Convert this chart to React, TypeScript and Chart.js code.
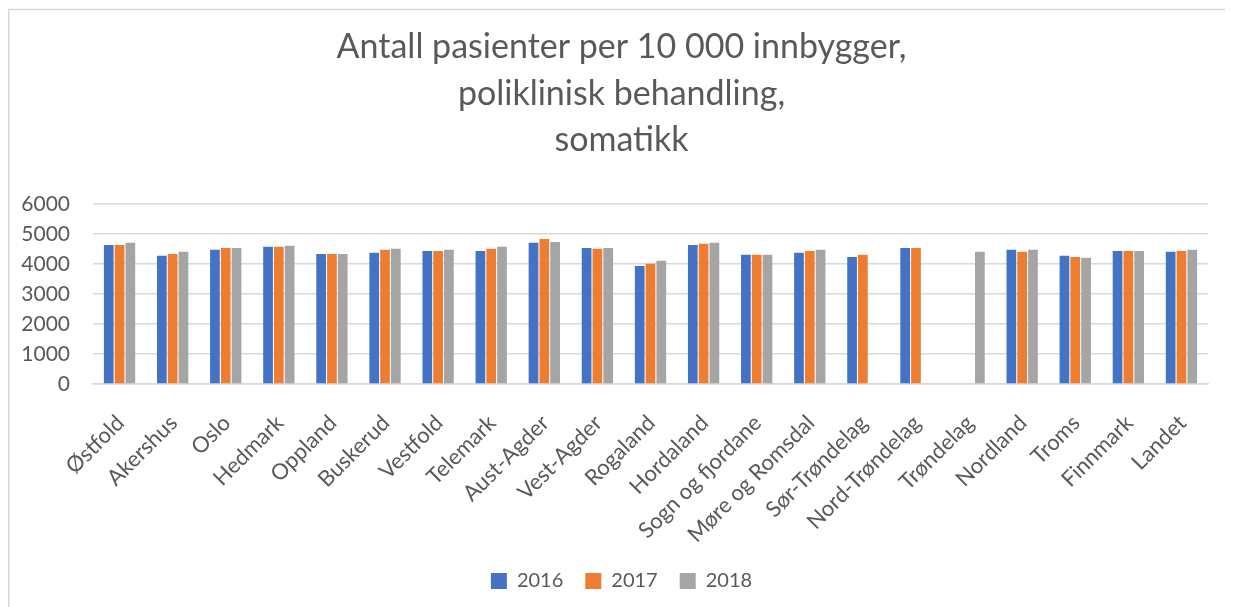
import React, { useEffect, useRef } from "react";
import { Chart, registerables } from "chart.js";

Chart.register(...registerables);

const categories = [
  "Østfold", "Akershus", "Oslo", "Hedmark", "Oppland", "Buskerud", "Vestfold",
  "Telemark", "Aust-Agder", "Vest-Agder", "Rogaland", "Hordaland",
  "Sogn og fjordane", "Møre og Romsdal", "Sør-Trøndelag", "Nord-Trøndelag",
  "Trøndelag", "Nordland", "Troms", "Finnmark", "Landet",
];

const values2016: (number | null)[] = [
  4640, 4280, 4480, 4580, 4340, 4380, 4440, 4440, 4710, 4540, 3940, 4640,
  4310, 4380, 4240, 4540, null, 4480, 4280, 4440, 4410,
];
const values2017: (number | null)[] = [
  4640, 4340, 4540, 4580, 4340, 4480, 4440, 4510, 4840, 4510, 4010, 4680,
  4310, 4440, 4310, 4540, null, 4410, 4240, 4440, 4440,
];
const values2018: (number | null)[] = [
  4710, 4410, 4540, 4610, 4340, 4510, 4480, 4580, 4740, 4540, 4110, 4710,
  4310, 4480, null, null, 4410, 4480, 4210, 4440, 4480,
];

const seriesNames = ["2016", "2017", "2018"];
const yTicks = [0, 1000, 2000, 3000, 4000, 5000, 6000];
const titleLines = [
  "Antall pasienter per 10 000 innbygger,",
  "poliklinisk behandling,",
  "somatikk",
];

const FONT = "Lato, 'Open Sans', sans-serif";
const TEXT = "#595959";
const GRID = "#d9d9d9";

const frameBorder = {
  id: "frameBorder",
  afterLayout(chart: any) {
    // shift title and legend centring slightly right, as in the reference
    const shift = 27;
    if (chart.titleBlock) chart.titleBlock.left += shift;
    if (chart.legend) chart.legend.left += shift;
  },
  beforeDraw(chart: any) {
    const ctx = chart.ctx;
    ctx.save();
    ctx.strokeStyle = GRID;
    ctx.lineWidth = 1.5;
    ctx.beginPath();
    ctx.moveTo(0.75, chart.height);
    ctx.lineTo(0.75, 1.5);
    ctx.lineTo(chart.width, 1.5);
    ctx.stroke();
    ctx.restore();
  },
};

export default function App() {
  const ref = useRef<HTMLCanvasElement | null>(null);

  useEffect(() => {
    if (!ref.current) return;
    const chart = new Chart(ref.current, {
      type: "bar",
      data: {
        labels: categories,
        datasets: [
          { label: seriesNames[0], data: values2016, backgroundColor: "#4472C4" },
          { label: seriesNames[1], data: values2017, backgroundColor: "#ED7D31" },
          { label: seriesNames[2], data: values2018, backgroundColor: "#A5A5A5" },
        ].map((d) => ({ ...d, categoryPercentage: 0.61, barPercentage: 0.9 })),
      },
      options: {
        animation: false,
        responsive: false,
        maintainAspectRatio: false,
        layout: { padding: { left: 0, right: 25, top: 0, bottom: 6 } },
        plugins: {
          title: {
            display: true,
            text: titleLines,
            color: TEXT,
            font: { family: FONT, size: 34, weight: "normal", lineHeight: 46.4 / 34 },
            padding: { top: 16, bottom: 41 },
          },
          legend: {
            position: "bottom",
            labels: {
              color: TEXT,
              font: { family: FONT, size: 20 },
              boxWidth: 16,
              boxHeight: 16,
              padding: 22,
            },
          },
          tooltip: { enabled: false },
        },
        scales: {
          x: {
            grid: { display: false },
            border: { display: true, color: GRID, width: 1.5 },
            ticks: {
              color: TEXT,
              font: { family: FONT, size: 22 },
              maxRotation: 45,
              minRotation: 45,
              autoSkip: false,
              padding: 18,
              labelOffset: 1,
            },
            afterFit: (scale: any) => {
              scale.height = 165;
            },
          },
          y: {
            min: 0,
            max: 6000,
            afterBuildTicks: (scale: any) => {
              scale.ticks = yTicks.map((v) => ({ value: v }));
            },
            grid: { color: GRID, lineWidth: 1.5, drawTicks: false },
            border: { display: false },
            ticks: {
              color: TEXT,
              font: { family: FONT, size: 21 },
              padding: 23,
              callback: (v: any) => String(v),
            },
            afterFit: (scale: any) => {
              scale.width = 85;
            },
          },
        },
      },
      plugins: [frameBorder],
    });
    return () => chart.destroy();
  }, []);

  return <canvas ref={ref} width={1225} height={599} style={{ display: "block" }} />;
}
